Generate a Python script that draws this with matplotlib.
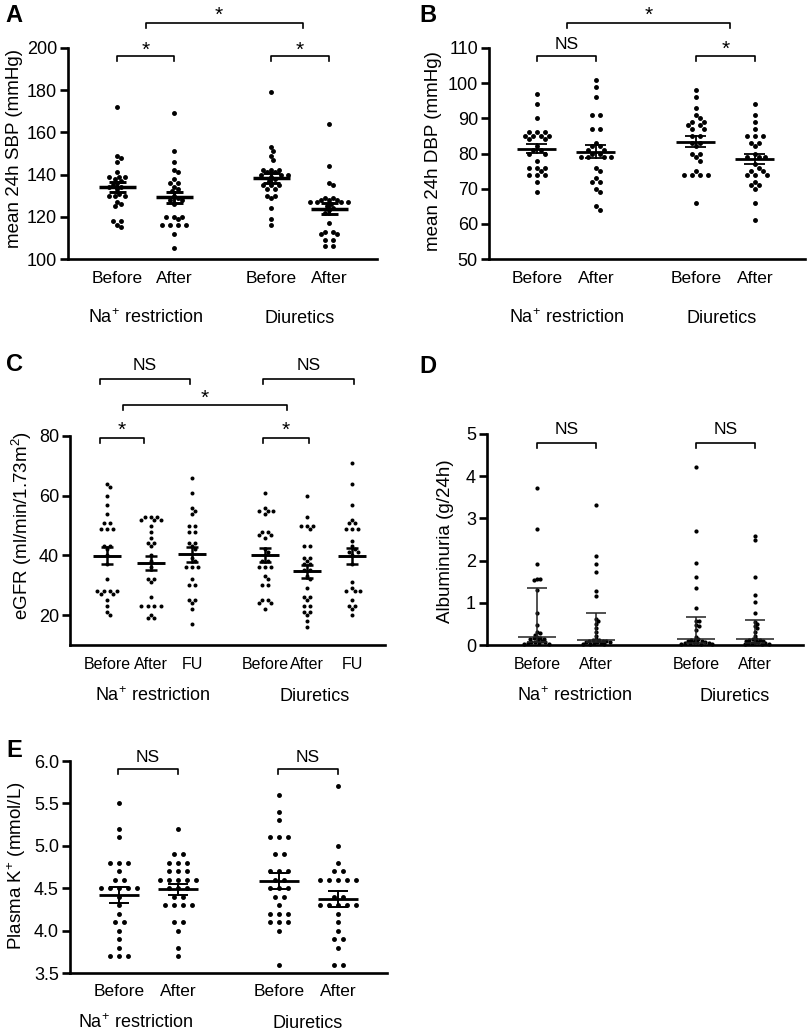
import numpy as np
import matplotlib
matplotlib.use("Agg")
import matplotlib.pyplot as plt
from matplotlib.lines import Line2D

plt.rcParams["font.family"] = ["Liberation Sans", "DejaVu Sans"]
plt.rcParams["mathtext.fontset"] = "custom"
plt.rcParams["mathtext.rm"] = "Liberation Sans"
plt.rcParams["mathtext.it"] = "Liberation Sans:italic"
plt.rcParams["mathtext.bf"] = "Liberation Sans:bold"

# ---------------- data ----------------
group_names = ["Na$^{+}$ restriction", "Diuretics"]
ticks2 = ["Before", "After"]
ticks3 = ["Before", "After", "FU"]

# A: mean 24h SBP (mmHg)
sbp_na_before = [172, 149, 148, 146, 141, 139, 139, 139, 138, 137, 136, 135, 134, 134, 133, 131, 130, 130, 130, 127, 126, 125, 118, 118, 116, 115]
sbp_na_after = [169, 151, 146, 142, 141, 138, 136, 136, 134, 133, 132, 130, 129, 128, 128, 126, 120, 120, 120, 119, 116, 116, 116, 116, 112, 105]
sbp_di_before = [179, 153, 151, 149, 147, 142, 142, 142, 141, 141, 140, 140, 140, 139, 138, 137, 135, 135, 135, 133, 133, 130, 130, 129, 124, 119, 116]
sbp_di_after = [164, 144, 136, 135, 129, 129, 128, 128, 128, 127, 127, 127, 127, 126, 125, 124, 123, 122, 117, 113, 113, 112, 112, 109, 109, 106, 106]

# B: mean 24h DBP (mmHg)
dbp_na_before = [97, 94, 90, 86, 86, 86, 85, 85, 85, 85, 84, 84, 82, 81, 81, 80, 80, 78, 76, 76, 76, 75, 74, 74, 74, 72, 69]
dbp_na_after = [101, 99, 96, 91, 91, 87, 87, 83, 82, 82, 81, 81, 80, 80, 79, 79, 79, 79, 76, 75, 73, 72, 72, 70, 69, 65, 64]
dbp_di_before = [98, 96, 93, 91, 90, 89, 89, 88, 88, 87, 87, 85, 85, 83, 83, 82, 80, 80, 79, 78, 75, 74, 74, 74, 74, 66]
dbp_di_after = [94, 91, 89, 87, 85, 85, 85, 83, 83, 82, 80, 79, 79, 79, 77, 76, 75, 75, 74, 74, 74, 72, 71, 71, 70, 66, 61]

# C: eGFR (ml/min/1.73m2)
egfr_na_before = [64, 63, 60, 57, 54, 51, 51, 49, 49, 49, 43, 43, 42, 40, 37, 32, 28, 28, 28, 28, 27, 27, 25, 23, 21, 20]
egfr_na_after = [53, 53, 53, 52, 52, 52, 50, 48, 46, 44, 44, 43, 40, 38, 36, 32, 32, 31, 26, 23, 23, 23, 23, 20, 19, 19]
egfr_na_fu = [66, 61, 56, 55, 54, 50, 50, 48, 48, 44, 44, 43, 42, 39, 38, 36, 36, 36, 32, 30, 30, 25, 25, 24, 22, 17]
egfr_di_before = [61, 56, 55, 55, 55, 54, 48, 48, 47, 47, 46, 42, 41, 38, 38, 36, 36, 36, 33, 32, 30, 30, 25, 25, 24, 24, 22]
egfr_di_after = [60, 53, 50, 50, 50, 49, 43, 43, 39, 39, 38, 37, 37, 35, 35, 33, 32, 29, 26, 26, 25, 23, 23, 21, 21, 20, 18, 16]
egfr_di_fu = [71, 64, 57, 52, 51, 51, 49, 49, 49, 45, 43, 42, 41, 41, 40, 37, 31, 29, 28, 28, 28, 25, 23, 23, 22, 20]

# D: Albuminuria (g/24h)
alb_na_before = [3.72, 2.76, 1.92, 1.57, 1.56, 1.54, 1.30, 0.75, 0.48, 0.30, 0.28, 0.24, 0.19, 0.17, 0.16, 0.15, 0.14, 0.12, 0.10, 0.08, 0.07, 0.06, 0.05, 0.04, 0.03, 0.02]
alb_na_after = [3.31, 2.12, 1.92, 1.73, 1.29, 1.15, 0.62, 0.57, 0.50, 0.40, 0.30, 0.22, 0.14, 0.12, 0.11, 0.10, 0.10, 0.09, 0.08, 0.07, 0.06, 0.05, 0.04, 0.03, 0.03, 0.02]
alb_di_before = [4.22, 2.69, 1.94, 1.60, 1.34, 0.88, 0.58, 0.56, 0.48, 0.46, 0.35, 0.20, 0.14, 0.13, 0.12, 0.10, 0.09, 0.08, 0.07, 0.06, 0.05, 0.05, 0.04, 0.03, 0.02, 0.02]
alb_di_after = [2.59, 2.48, 1.62, 1.18, 1.02, 0.75, 0.55, 0.50, 0.45, 0.40, 0.30, 0.22, 0.15, 0.14, 0.13, 0.11, 0.10, 0.09, 0.08, 0.06, 0.05, 0.04, 0.04, 0.03, 0.02, 0.02]

# E: Plasma K+ (mmol/L)
k_na_before = [5.5, 5.2, 5.1, 4.8, 4.8, 4.8, 4.7, 4.6, 4.6, 4.5, 4.5, 4.5, 4.5, 4.5, 4.4, 4.3, 4.2, 4.1, 4.1, 4.0, 3.9, 3.8, 3.7, 3.7, 3.7]
k_na_after = [5.2, 4.9, 4.9, 4.8, 4.8, 4.8, 4.7, 4.7, 4.7, 4.6, 4.6, 4.6, 4.6, 4.6, 4.5, 4.5, 4.5, 4.4, 4.4, 4.3, 4.3, 4.3, 4.3, 4.1, 4.1, 4.0, 3.8, 3.7]
k_di_before = [5.6, 5.4, 5.3, 5.1, 5.1, 5.1, 4.9, 4.9, 4.7, 4.7, 4.7, 4.6, 4.6, 4.5, 4.5, 4.5, 4.4, 4.4, 4.3, 4.2, 4.2, 4.2, 4.1, 4.1, 4.1, 4.0, 3.6]
k_di_after = [5.7, 5.0, 4.8, 4.7, 4.7, 4.6, 4.6, 4.6, 4.6, 4.6, 4.4, 4.4, 4.3, 4.3, 4.3, 4.3, 4.3, 4.2, 4.1, 4.0, 3.9, 3.9, 3.8, 3.6, 3.6]

# ---------------- figure helpers ----------------
W, H = 807, 1032
fig = plt.figure(figsize=(W / 100, H / 100), dpi=100)

YTICK_SIZE = 13
XTICK_SIZE = 12.5
LABEL_SIZE = 13.5
GROUP_SIZE = 13


def fx(x):
    return x / W


def fy(y):
    return 1 - y / H


def ftext(x, y, s, size, **kw):
    fig.text(fx(x), fy(y), s, fontsize=size, **kw)


def centered_text(x, yc, s, size, frac=0.358, **kw):
    em = size * 100 / 72.0
    ftext(x, yc + frac * em, s, size, ha="center", va="baseline", **kw)


def bracket(x1, x2, y, label, yc, tx=None, drop=5):
    fig.add_artist(Line2D([fx(x1), fx(x1), fx(x2), fx(x2)],
                          [fy(y + drop), fy(y), fy(y), fy(y + drop)],
                          transform=fig.transFigure, color="black", lw=1.2))
    xm = (x1 + x2) / 2 if tx is None else tx
    if label == "*":
        centered_text(xm, yc, "*", 15, frac=0.58)
    else:
        centered_text(xm, yc, label, 12.5)


def make_axes(left, right, top, bottom, ylim, yticks, ylabels):
    ax = fig.add_axes([fx(left), fy(bottom), (right - left) / W, (bottom - top) / H])
    ax.set_xlim(left, right)
    ax.set_ylim(*ylim)
    ax.patch.set_alpha(0)
    for s in ("top", "right"):
        ax.spines[s].set_visible(False)
    for s in ("left", "bottom"):
        ax.spines[s].set_linewidth(1.9)
    ax.set_yticks(yticks)
    ax.set_yticklabels(ylabels)
    ax.tick_params(axis="y", length=5.5, width=1.9, pad=2.5, labelsize=YTICK_SIZE, direction="out")
    ax.tick_params(axis="x", length=0)
    ax.px_per_unit = (bottom - top) / (ylim[1] - ylim[0])
    return ax


def swarm_px(vals, k, d, dia, thr=0.92):
    vals = np.round(np.asarray(vals, float), 6)
    xs = np.zeros(len(vals))
    placed = []
    lim = (thr * dia) ** 2
    for u in sorted(set(vals.tolist()), reverse=True):
        idx = np.where(vals == u)[0]
        m = len(idx)
        base = (np.arange(m) - (m - 1) / 2) * d
        order = np.argsort(np.abs(base), kind="stable")
        y = u * k
        for oi in order:
            p = base[oi]
            sgn = 1 if p >= 0 else -1
            steps = [0.0]
            for t in range(1, 60):
                steps += [sgn * t * d / 4, -sgn * t * d / 4]
            c = p
            for s in steps:
                c = p + s
                if all((c - px) ** 2 + (y - py) ** 2 >= lim for px, py in placed):
                    break
            xs[idx[oi]] = c
            placed.append((c, y))
    return xs


def dots(ax, x, vals, dia, d, thr=0.92):
    off = swarm_px(vals, ax.px_per_unit, d, dia, thr)
    ax.scatter(x + off, vals, s=(dia * 0.72) ** 2, color="black", linewidths=0,
               zorder=3, clip_on=False)


def mean_sem(ax, x, vals, hw_m, hw_c, lw_m=2.0, lw_e=1.5):
    v = np.asarray(vals, float)
    m = v.mean()
    se = v.std(ddof=1) / np.sqrt(len(v))
    ax.plot([x - hw_m, x + hw_m], [m, m], color="black", lw=lw_m, zorder=4, solid_capstyle="butt")
    ax.plot([x, x], [m - se, m + se], color="black", lw=lw_e, zorder=4)
    for yv in (m - se, m + se):
        ax.plot([x - hw_c, x + hw_c], [yv, yv], color="black", lw=lw_e, zorder=4, solid_capstyle="butt")


def median_iqr(ax, x, vals, hw_m, hw_c):
    q1, med, q3 = np.percentile(np.asarray(vals, float), [25, 50, 75], method="weibull")
    kw = dict(color="#222222", lw=1.1, zorder=4, solid_capstyle="butt", clip_on=False)
    ax.plot([x - hw_m, x + hw_m], [med, med], **kw)
    ax.plot([x, x], [q1, q3], **kw)
    for yv in (q1, q3):
        ax.plot([x - hw_c, x + hw_c], [yv, yv], **kw)


def xlabels(ax, cats, labels, size, pad):
    ax.set_xticks(cats)
    ax.set_xticklabels(labels, fontsize=size)
    ax.tick_params(axis="x", pad=pad)


# ---------------- Panel A ----------------
catA = [117, 174, 271, 329]
axA = make_axes(68, 377, 48, 259, (100, 200), [100, 120, 140, 160, 180, 200],
                ["100", "120", "140", "160", "180", "200"])
for x, v in zip(catA, [sbp_na_before, sbp_na_after, sbp_di_before, sbp_di_after]):
    dots(axA, x, v, 4.9, 8.3)
    mean_sem(axA, x, v, 18.5, 8.5, lw_m=2.5, lw_e=2.1)
xlabels(axA, catA, ticks2 * 2, XTICK_SIZE, 8.3)
ftext(14.5, 149, "mean 24h SBP (mmHg)", LABEL_SIZE, rotation=90, ha="center", va="center")
centered_text(145, 317, group_names[0], GROUP_SIZE)
centered_text(300, 317, group_names[1], GROUP_SIZE)
bracket(117, 174, 56, "*", 43.5)
bracket(271, 329, 56, "*", 43.5)
bracket(146, 303, 23, "*", 8.5, tx=219)

# ---------------- Panel B ----------------
catB = [537, 596, 696, 755]
axB = make_axes(489, 805, 48, 259, (50, 110), [50, 60, 70, 80, 90, 100, 110],
                ["50", "60", "70", "80", "90", "100", "110"])
for x, v in zip(catB, [dbp_na_before, dbp_na_after, dbp_di_before, dbp_di_after]):
    dots(axB, x, v, 4.9, 8.3)
    mean_sem(axB, x, v, 19.5, 10.5, lw_m=2.0, lw_e=1.3)
xlabels(axB, catB, ticks2 * 2, XTICK_SIZE, 8.3)
ftext(434, 151, "mean 24h DBP (mmHg)", LABEL_SIZE, rotation=90, ha="center", va="center")
centered_text(566, 317, group_names[0], GROUP_SIZE)
centered_text(722, 317, group_names[1], GROUP_SIZE)
bracket(537, 596, 56, "NS", 43)
bracket(696, 755, 56, "*", 43)
bracket(567, 730, 23, "*", 9)

# ---------------- Panel C ----------------
catC = [107, 151, 192, 265, 307, 352]
axC = make_axes(70, 385, 436, 645, (10, 80), [20, 40, 60, 80], ["20", "40", "60", "80"])
for x, v in zip(catC, [egfr_na_before, egfr_na_after, egfr_na_fu,
                       egfr_di_before, egfr_di_after, egfr_di_fu]):
    dots(axC, x, v, 4.0, 6.4)
    mean_sem(axC, x, v, 14, 6, lw_m=2.1, lw_e=1.8)
xlabels(axC, catC, ticks3 * 2, 11.5, 8.6)
ftext(22, 525, "eGFR (ml/min/1.73m$^{2}$)", LABEL_SIZE, rotation=90, ha="center", va="center")
centered_text(152, 695, group_names[0], GROUP_SIZE)
centered_text(315, 695, group_names[1], GROUP_SIZE)
bracket(100, 190, 379, "NS", 363.5)
bracket(263, 354, 379, "NS", 363.5)
bracket(123, 287, 405, "*", 392)
bracket(100, 144, 438, "*", 424)
bracket(263, 309, 438, "*", 424)

# ---------------- Panel D ----------------
catD = [537, 596, 696, 755]
axD = make_axes(487, 803, 434, 645, (0, 5), [0, 1, 2, 3, 4, 5], ["0", "1", "2", "3", "4", "5"])
for x, v in zip(catD, [alb_na_before, alb_na_after, alb_di_before, alb_di_after]):
    dots(axD, x, v, 4.2, 4.6, thr=0.72)
    median_iqr(axD, x, v, 19, 10)
xlabels(axD, catD, ticks2 * 2, 11.5, 8.6)
ftext(446, 541, "Albuminuria (g/24h)", LABEL_SIZE, rotation=90, ha="center", va="center")
centered_text(574, 695, group_names[0], GROUP_SIZE)
centered_text(735, 695, group_names[1], GROUP_SIZE)
bracket(537, 596, 443, "NS", 428)
bracket(696, 755, 443, "NS", 428)

# ---------------- Panel E ----------------
catE = [119, 178, 279, 338]
axE = make_axes(70, 387, 761, 973, (3.5, 6.0), [3.5, 4.0, 4.5, 5.0, 5.5, 6.0],
                ["3.5", "4.0", "4.5", "5.0", "5.5", "6.0"])
for x, v in zip(catE, [k_na_before, k_na_after, k_di_before, k_di_after]):
    dots(axE, x, v, 4.9, 9.0)
    mean_sem(axE, x, v, 20, 10, lw_m=2.0, lw_e=1.4)
xlabels(axE, catE, ticks2 * 2, XTICK_SIZE, 8.0)
ftext(17, 866, "Plasma K$^{+}$ (mmol/L)", LABEL_SIZE, rotation=90, ha="center", va="center")
centered_text(135, 1022, group_names[0], GROUP_SIZE)
centered_text(308, 1022, group_names[1], GROUP_SIZE)
bracket(118, 178, 769, "NS", 756)
bracket(278, 338, 769, "NS", 756)

# ---------------- panel letters ----------------
for lx, ly, lt in [(14, 14, "A"), (428, 14, "B"), (14, 363, "C"), (428, 365, "D"), (14, 749, "E")]:
    centered_text(lx, ly, lt, 17, weight="bold")

fig.savefig("out.png", dpi=100)
